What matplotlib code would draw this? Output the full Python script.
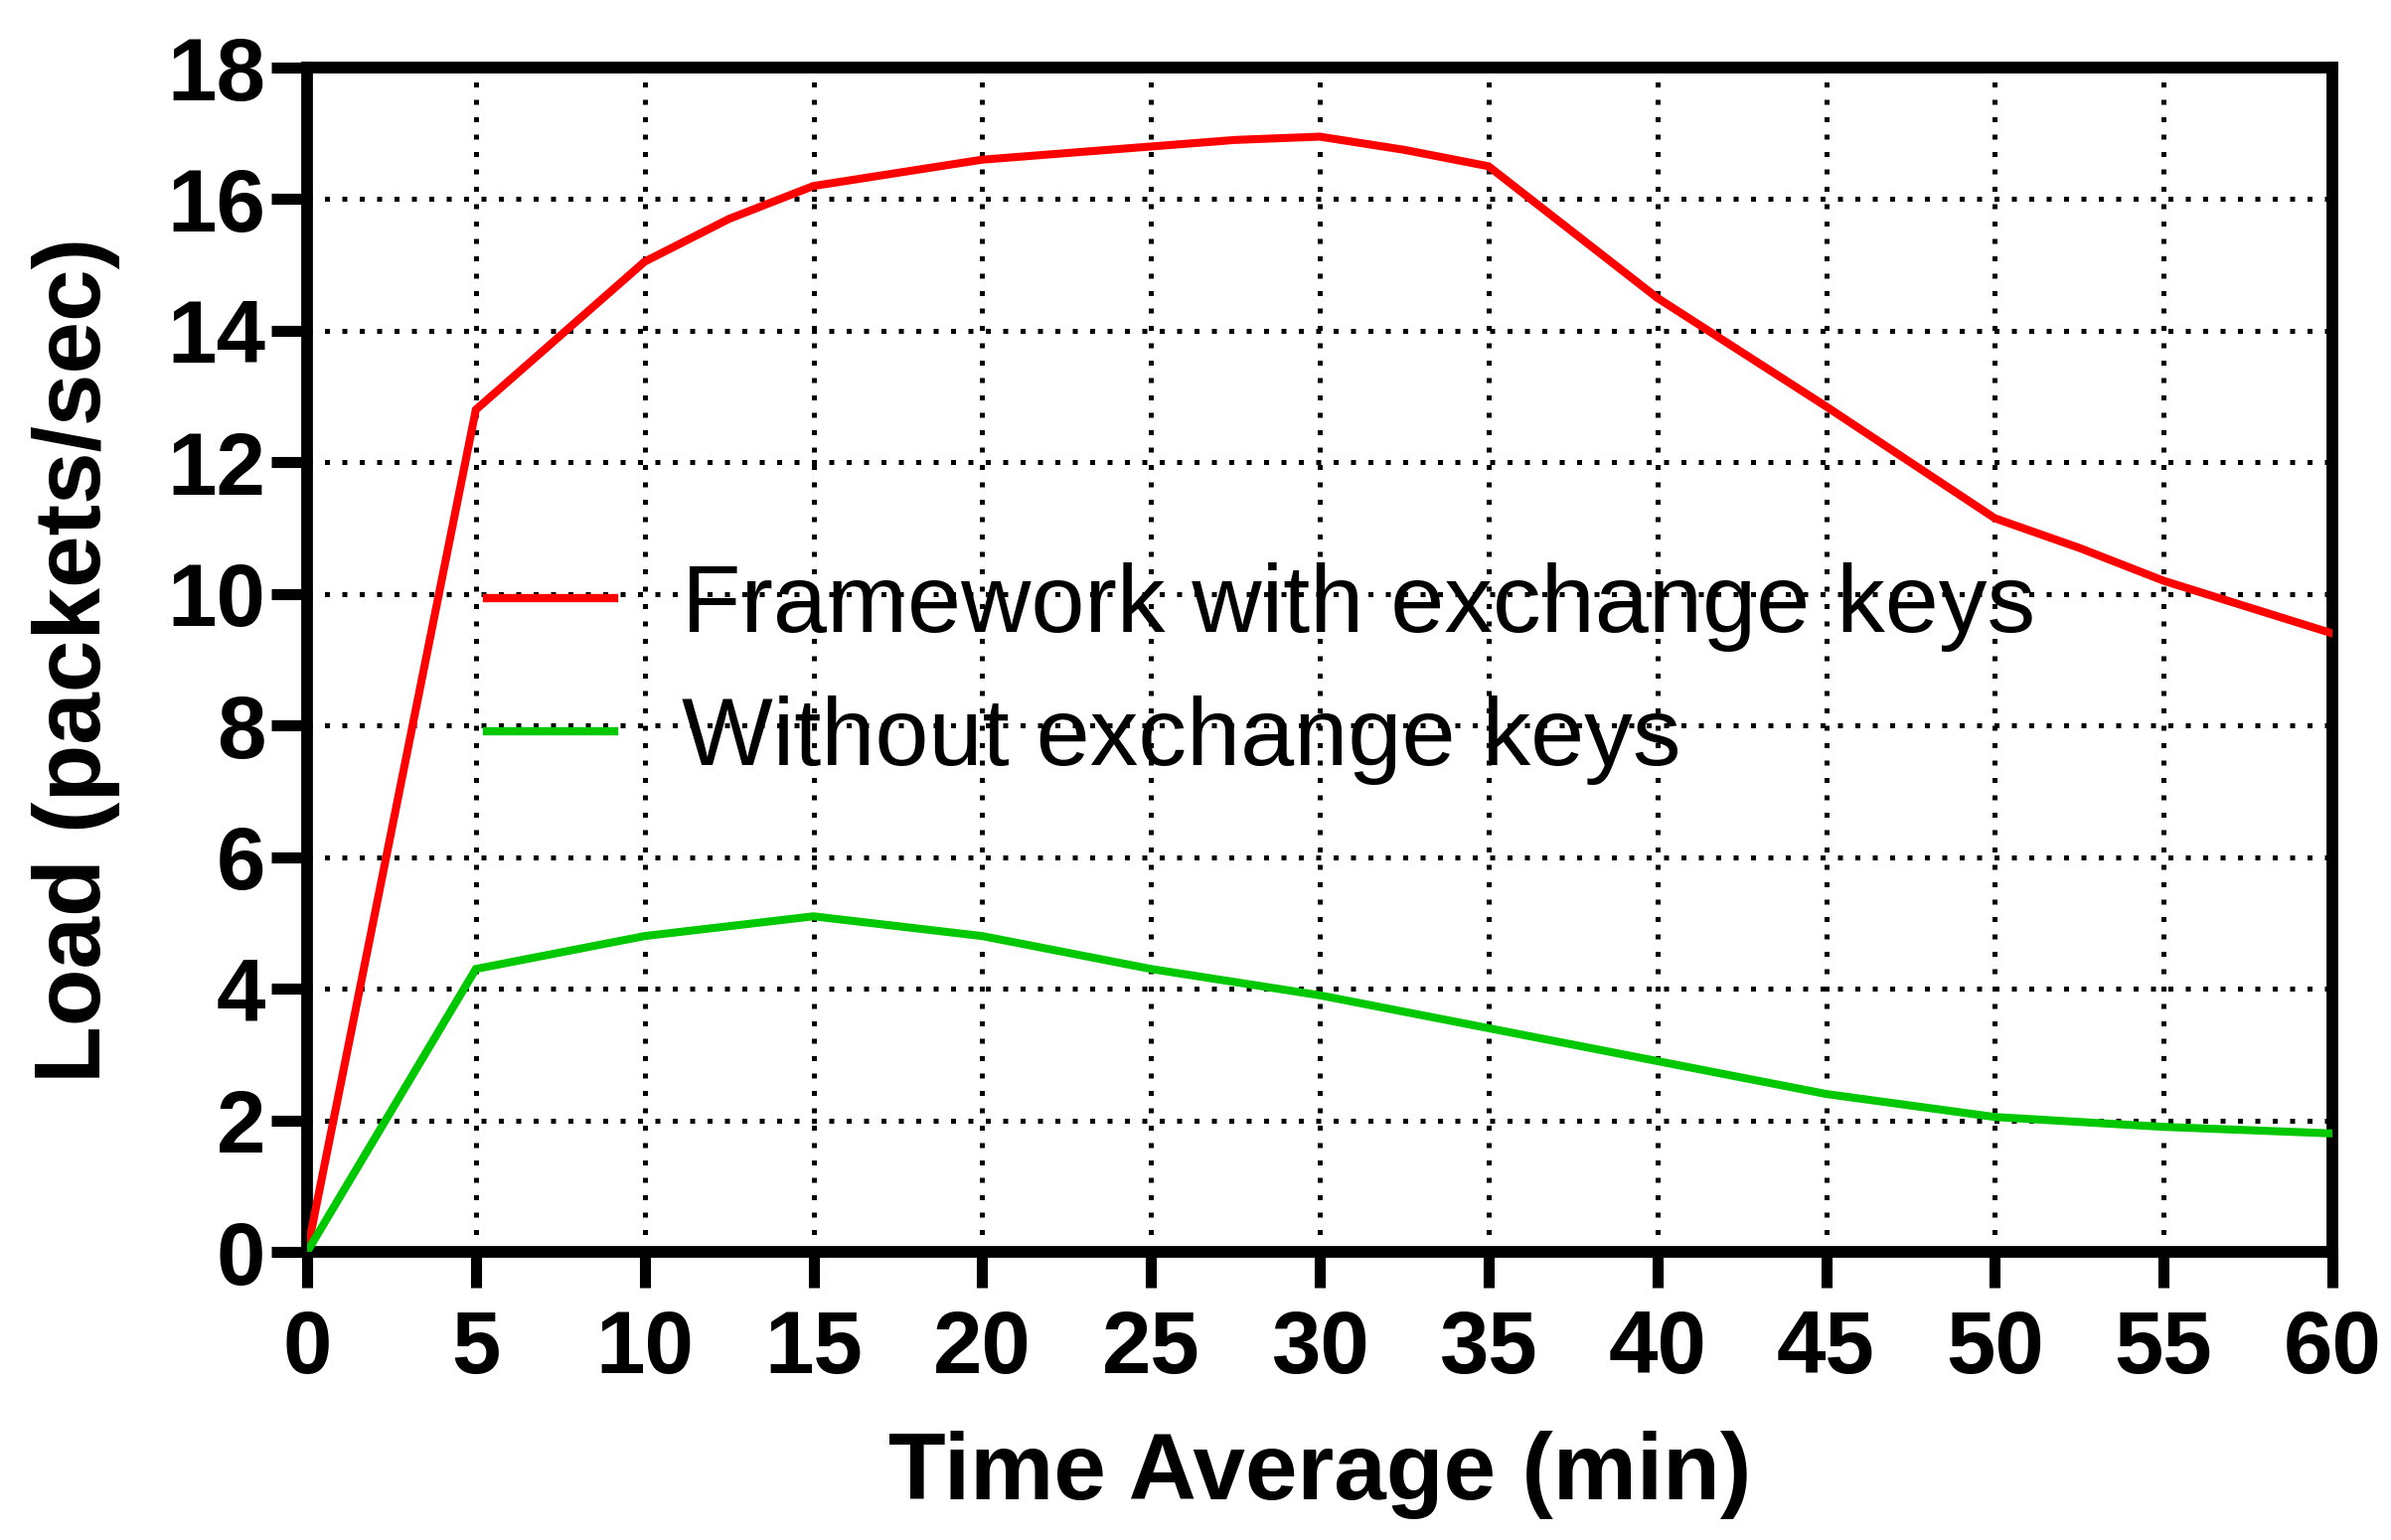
import matplotlib
matplotlib.use("Agg")
import matplotlib.pyplot as plt

# Data
x_red = [0, 5, 7, 10, 12.5, 15, 17.5, 20, 22.5, 25, 27.5, 30, 32.5, 35, 40, 45, 50, 52.5, 55, 57.5, 60]
y_red = [0, 12.8, 13.7, 15.05, 15.7, 16.2, 16.4, 16.6, 16.7, 16.8, 16.9, 16.95, 16.75, 16.5, 14.5, 12.85, 11.15, 10.7, 10.2, 9.8, 9.4]

x_green = [0, 5, 10, 15, 20, 25, 30, 35, 40, 45, 50, 55, 60]
y_green = [0, 4.3, 4.8, 5.1, 4.8, 4.3, 3.9, 3.4, 2.9, 2.4, 2.05, 1.9, 1.8]

label_red = "Framework with exchange keys"
label_green = "Without exchange keys"
xticks = list(range(0, 61, 5))
yticks = list(range(0, 19, 2))
xlabel = "Time Average (min)"
ylabel = "Load (packets/sec)"

plt.rcParams['font.family'] = ['Liberation Sans', 'DejaVu Sans']

fig = plt.figure(figsize=(24.06, 15.5), dpi=100)
W, H = 2406, 1550
left, right, bottom, top = 309, 2347, 1260, 68
ax = fig.add_axes([left / W, 1 - bottom / H, (right - left) / W, (bottom - top) / H])

ax.plot(x_red, y_red, color='#ff0000', lw=5.8, label=label_red, solid_joinstyle='miter', zorder=3)
ax.plot(x_green, y_green, color='#00c800', lw=5.8, label=label_green, solid_joinstyle='miter', zorder=3)

ax.set_xlim(0, 60)
ax.set_ylim(0, 18)
ax.set_xticks(xticks)
ax.set_yticks(yticks)

ax.grid(True, color='black', linestyle=(0, (1, 2.5)), linewidth=3.6)
ax.set_axisbelow(True)

for s in ax.spines.values():
    s.set_linewidth(8.5)
    s.set_color('black')

ax.tick_params(axis='both', which='major', direction='out', length=26, width=8,
               labelsize=64, pad=4, color='black')
ax.tick_params(axis='x', pad=15)
for lab in ax.get_xticklabels() + ax.get_yticklabels():
    lab.set_fontweight('bold')

ax.set_xlabel(xlabel, fontsize=68, fontweight='bold', labelpad=28)
ax.set_ylabel(ylabel, fontsize=68, fontweight='bold', labelpad=34)

leg = ax.legend(loc='center left', bbox_to_anchor=(0.089, 0.488), frameon=False,
                fontsize=70, handlelength=1.31, handletextpad=0.7, labelspacing=0.45,
                borderpad=0, borderaxespad=0)
for line in leg.get_lines():
    line.set_linewidth(6)

fig.savefig("out.png", dpi=100)
